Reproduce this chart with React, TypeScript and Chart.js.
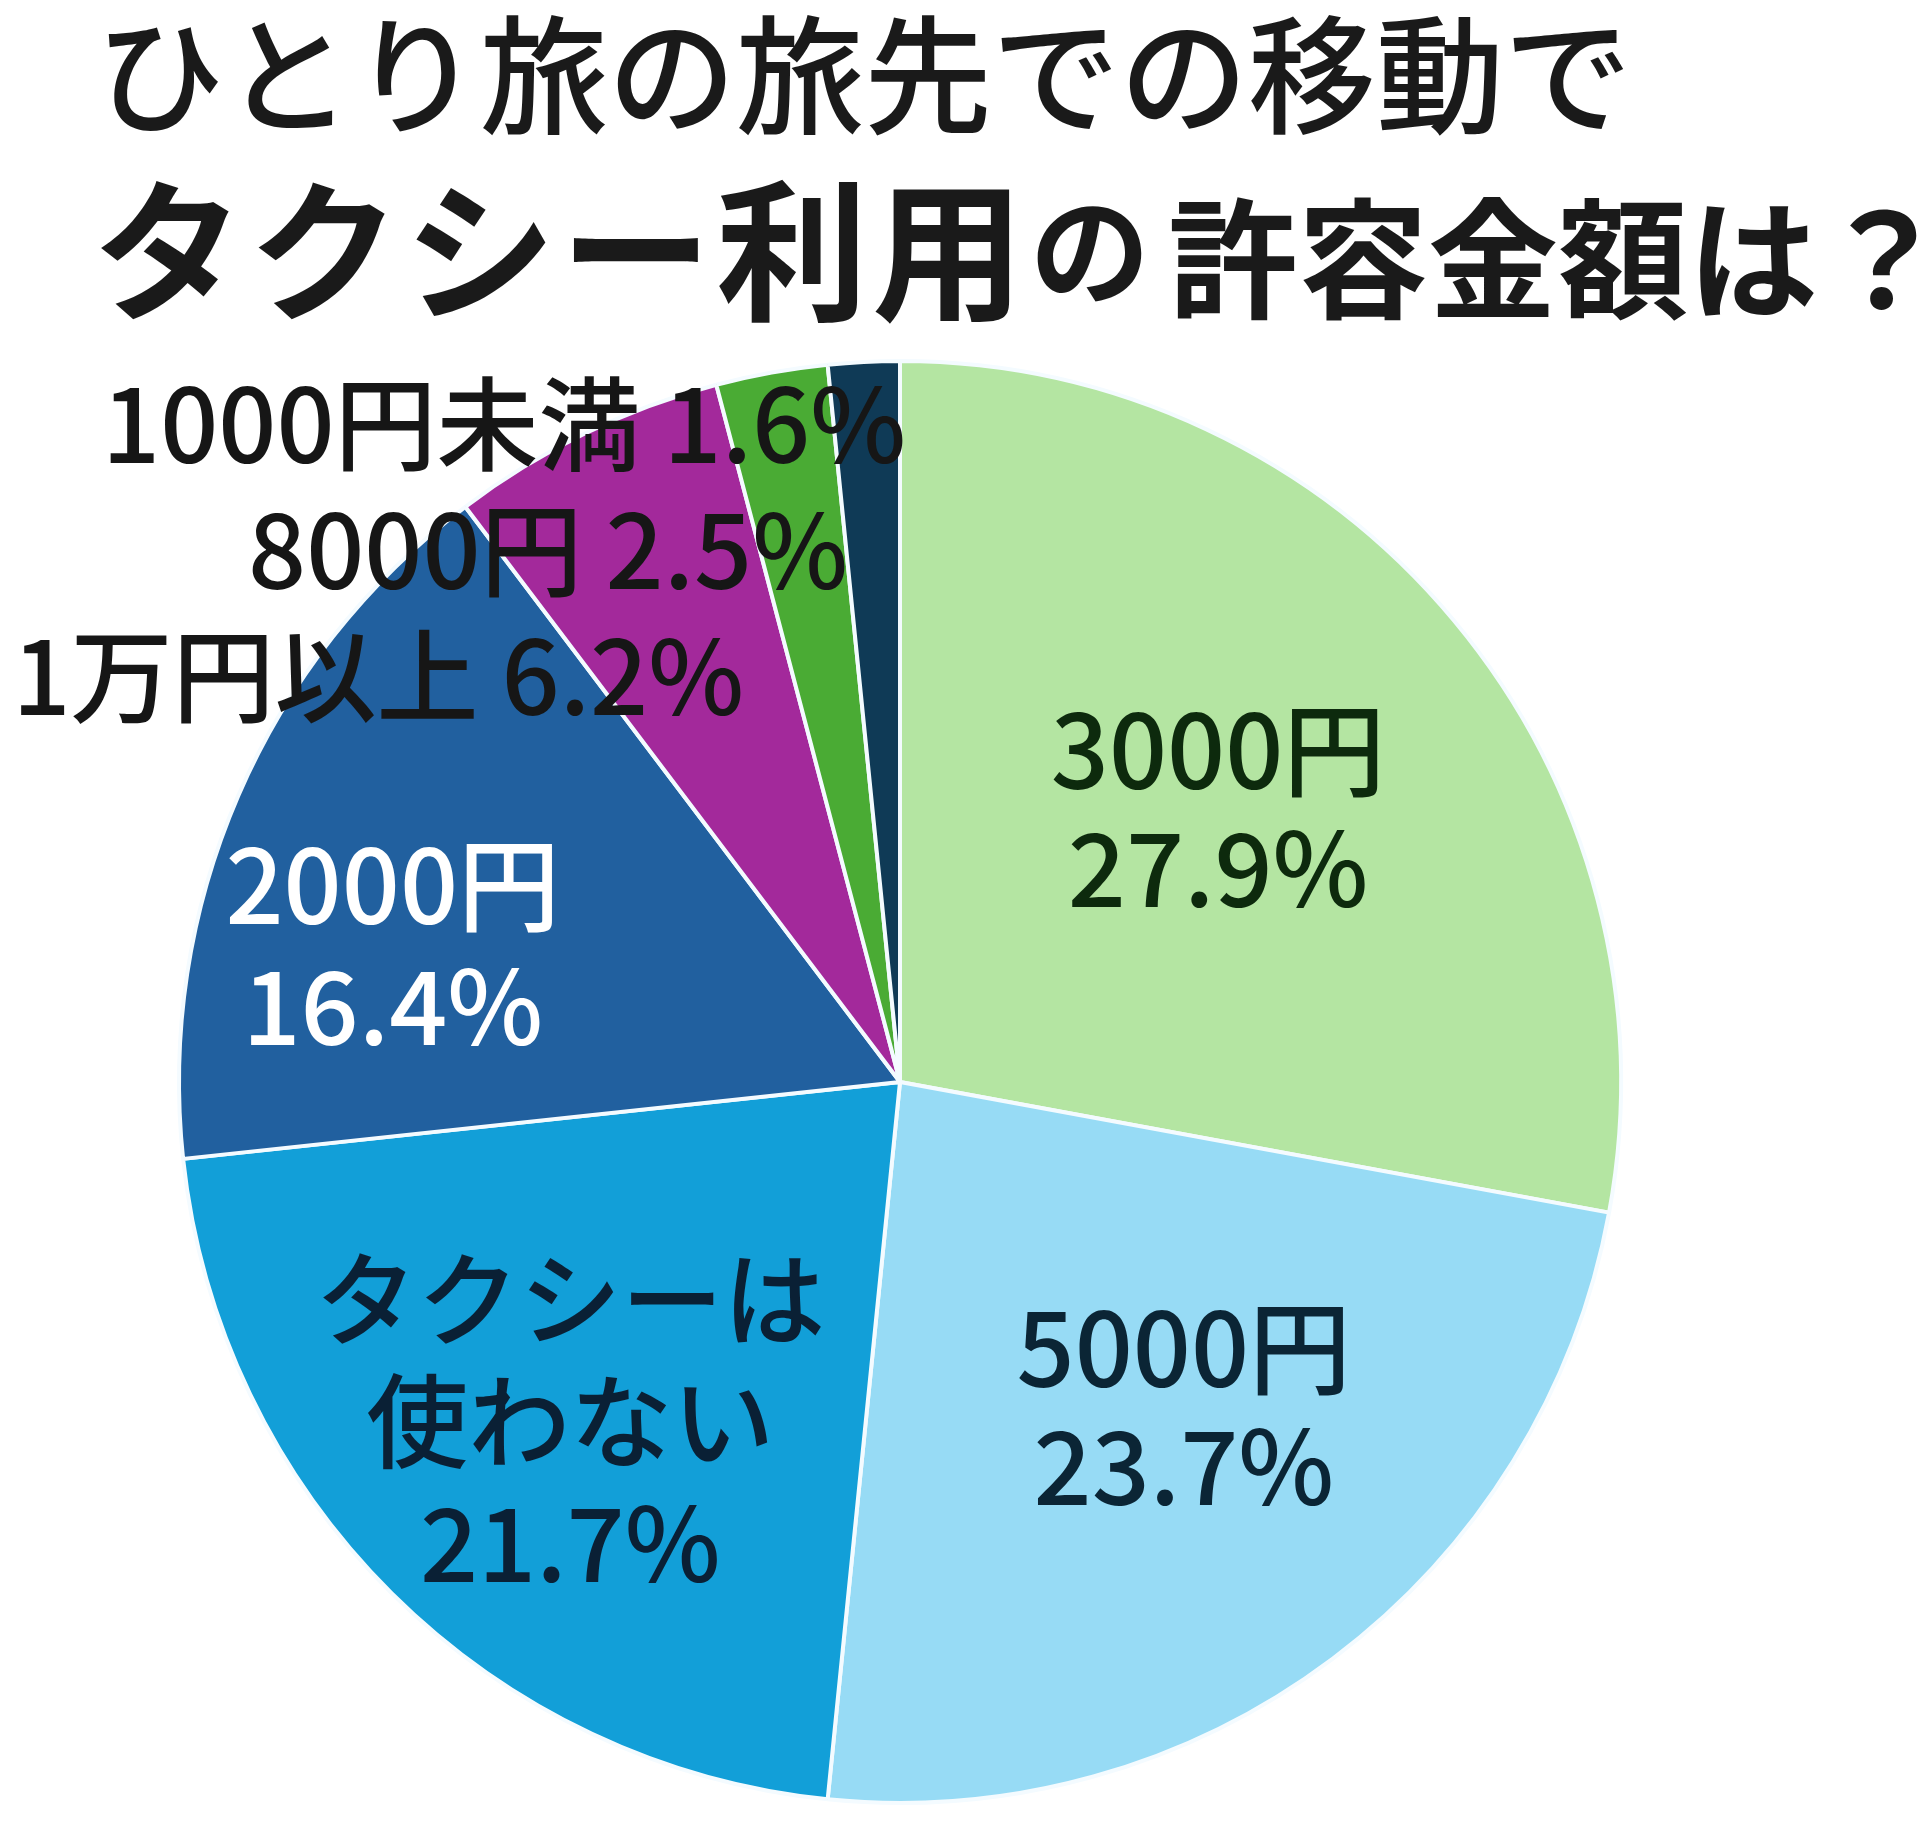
import React, { useEffect, useRef } from "react";
import { Chart, registerables } from "chart.js";

Chart.register(...registerables);

// ---- data ----
const categories = ["3000円", "5000円", "タクシーは使わない", "2000円", "1万円以上", "8000円", "1000円未満"];
const shares = [27.9, 23.7, 21.7, 16.4, 6.2, 2.5, 1.6];
const labelNameLines = [["3000円"], ["5000円"], ["タクシーは", "使わない"], ["2000円"], ["1万円以上"], ["8000円"], ["1000円未満"]];
const titleLine1 = "ひとり旅の旅先での移動で";
const titleLine2Parts = ["タクシー利用", "の", "許容金額は？"];

// ---- styles ----
const sliceColors = ["#b4e5a2", "#97dbf5", "#129fd8", "#21609f", "#a3299b", "#4aab34", "#0f3a56"];
const labelColors = ["#0d2a0d", "#0b2535", "#0a2035", "#ffffff", "#161616", "#161616", "#161616"];
// r: fraction of radius, da: degrees shift (clockwise), lh: line height, outside: single-line right aligned
const labelPlacement = [
  { r: 0.58, da: -0.7, lh: 118, outside: false },
  { r: 0.60, da: -4.1, lh: 118, outside: false },
  { r: 0.657, da: -0.7, lh: 122, outside: false },
  { r: 0.728, da: -8.5, lh: 121, outside: false },
  { r: 0.602, da: 4.85, lh: 0, outside: true },
  { r: 0.739, da: 4.66, lh: 0, outside: true },
  { r: 0.911, da: 3.4, lh: 0, outside: true },
];
const FONT = '"Noto Sans CJK JP", "Noto Sans", sans-serif';
const LABEL_SIZE = 102;

const titleSegments = [
  { text: titleLine1, x: 96, y: 124, size: 128, weight: "500", spacing: 0 },
  { text: titleLine2Parts[0], x: 92, y: 309, size: 152, weight: "bold", spacing: 4 },
  { text: titleLine2Parts[1], x: 1030, y: 296, size: 120, weight: "bold", spacing: 0 },
  { text: titleLine2Parts[2], x: 1168, y: 308, size: 130, weight: "bold", spacing: 0 },
];

const labelPlugin = {
  id: "sliceLabels",
  afterDatasetsDraw(chart: any) {
    const ctx = chart.ctx as CanvasRenderingContext2D;
    const meta = chart.getDatasetMeta(0);
    ctx.save();
    meta.data.forEach((arc: any, i: number) => {
      const { x, y, startAngle, endAngle, outerRadius } = arc.getProps(
        ["x", "y", "startAngle", "endAngle", "outerRadius"],
        true
      );
      const p = labelPlacement[i];
      const mid = (startAngle + endAngle) / 2 + (p.da * Math.PI) / 180;
      const ax = x + Math.cos(mid) * outerRadius * p.r;
      const ay = y + Math.sin(mid) * outerRadius * p.r;
      const pct = shares[i].toFixed(1) + "%";
      ctx.font = `500 ${LABEL_SIZE}px ${FONT}`;
      ctx.fillStyle = labelColors[i];
      ctx.textBaseline = "alphabetic";
      const off = LABEL_SIZE * 0.37;
      if (p.outside) {
        ctx.textAlign = "right";
        ctx.fillText(labelNameLines[i].join("") + " " + pct, ax, ay + off);
      } else {
        const lines = [...labelNameLines[i], pct];
        const n = lines.length;
        ctx.textAlign = "center";
        lines.forEach((t, k) => {
          const cy = ay + (k - (n - 1) / 2) * p.lh;
          ctx.fillText(t, ax, cy + off);
        });
      }
    });
    ctx.restore();
  },
  afterDraw(chart: any) {
    const ctx = chart.ctx as CanvasRenderingContext2D;
    ctx.save();
    ctx.fillStyle = "#1a1a1a";
    ctx.textAlign = "left";
    ctx.textBaseline = "alphabetic";
    titleSegments.forEach((s) => {
      ctx.font = `${s.weight} ${s.size}px ${FONT}`;
      (ctx as any).letterSpacing = `${s.spacing}px`;
      ctx.fillText(s.text, s.x, s.y);
    });
    (ctx as any).letterSpacing = "0px";
    ctx.restore();
  },
};

export default function App() {
  const ref = useRef<HTMLCanvasElement | null>(null);
  useEffect(() => {
    if (!ref.current) return;
    const chart = new Chart(ref.current, {
      type: "pie",
      data: {
        labels: categories,
        datasets: [
          {
            data: shares,
            backgroundColor: sliceColors,
            borderColor: "#f4fbff",
            borderWidth: 4,
            radius: 721,
          } as any,
        ],
      },
      options: {
        responsive: false,
        animation: false,
        devicePixelRatio: 1,
        layout: { padding: { left: 0, right: 120, top: 339, bottom: 0 } },
        plugins: {
          legend: { display: false },
          tooltip: { enabled: false },
          title: { display: false },
        },
      },
      plugins: [labelPlugin],
    });
    const fontsAny = (document as any).fonts;
    if (fontsAny && fontsAny.load) {
      Promise.all([
        fontsAny.load(`500 ${LABEL_SIZE}px ${FONT}`, "円タクシー"),
        fontsAny.load(`bold 150px ${FONT}`, "タクシー利用"),
      ])
        .then(() => chart.draw())
        .catch(() => {});
    }
    return () => chart.destroy();
  }, []);
  return (
    <div style={{ position: "absolute", left: 0, top: 0, width: 1920, height: 1825, overflow: "hidden", background: "#ffffff" }}>
      <canvas ref={ref} width={1920} height={1825} style={{ display: "block", width: 1920, height: 1825 }} />
    </div>
  );
}
